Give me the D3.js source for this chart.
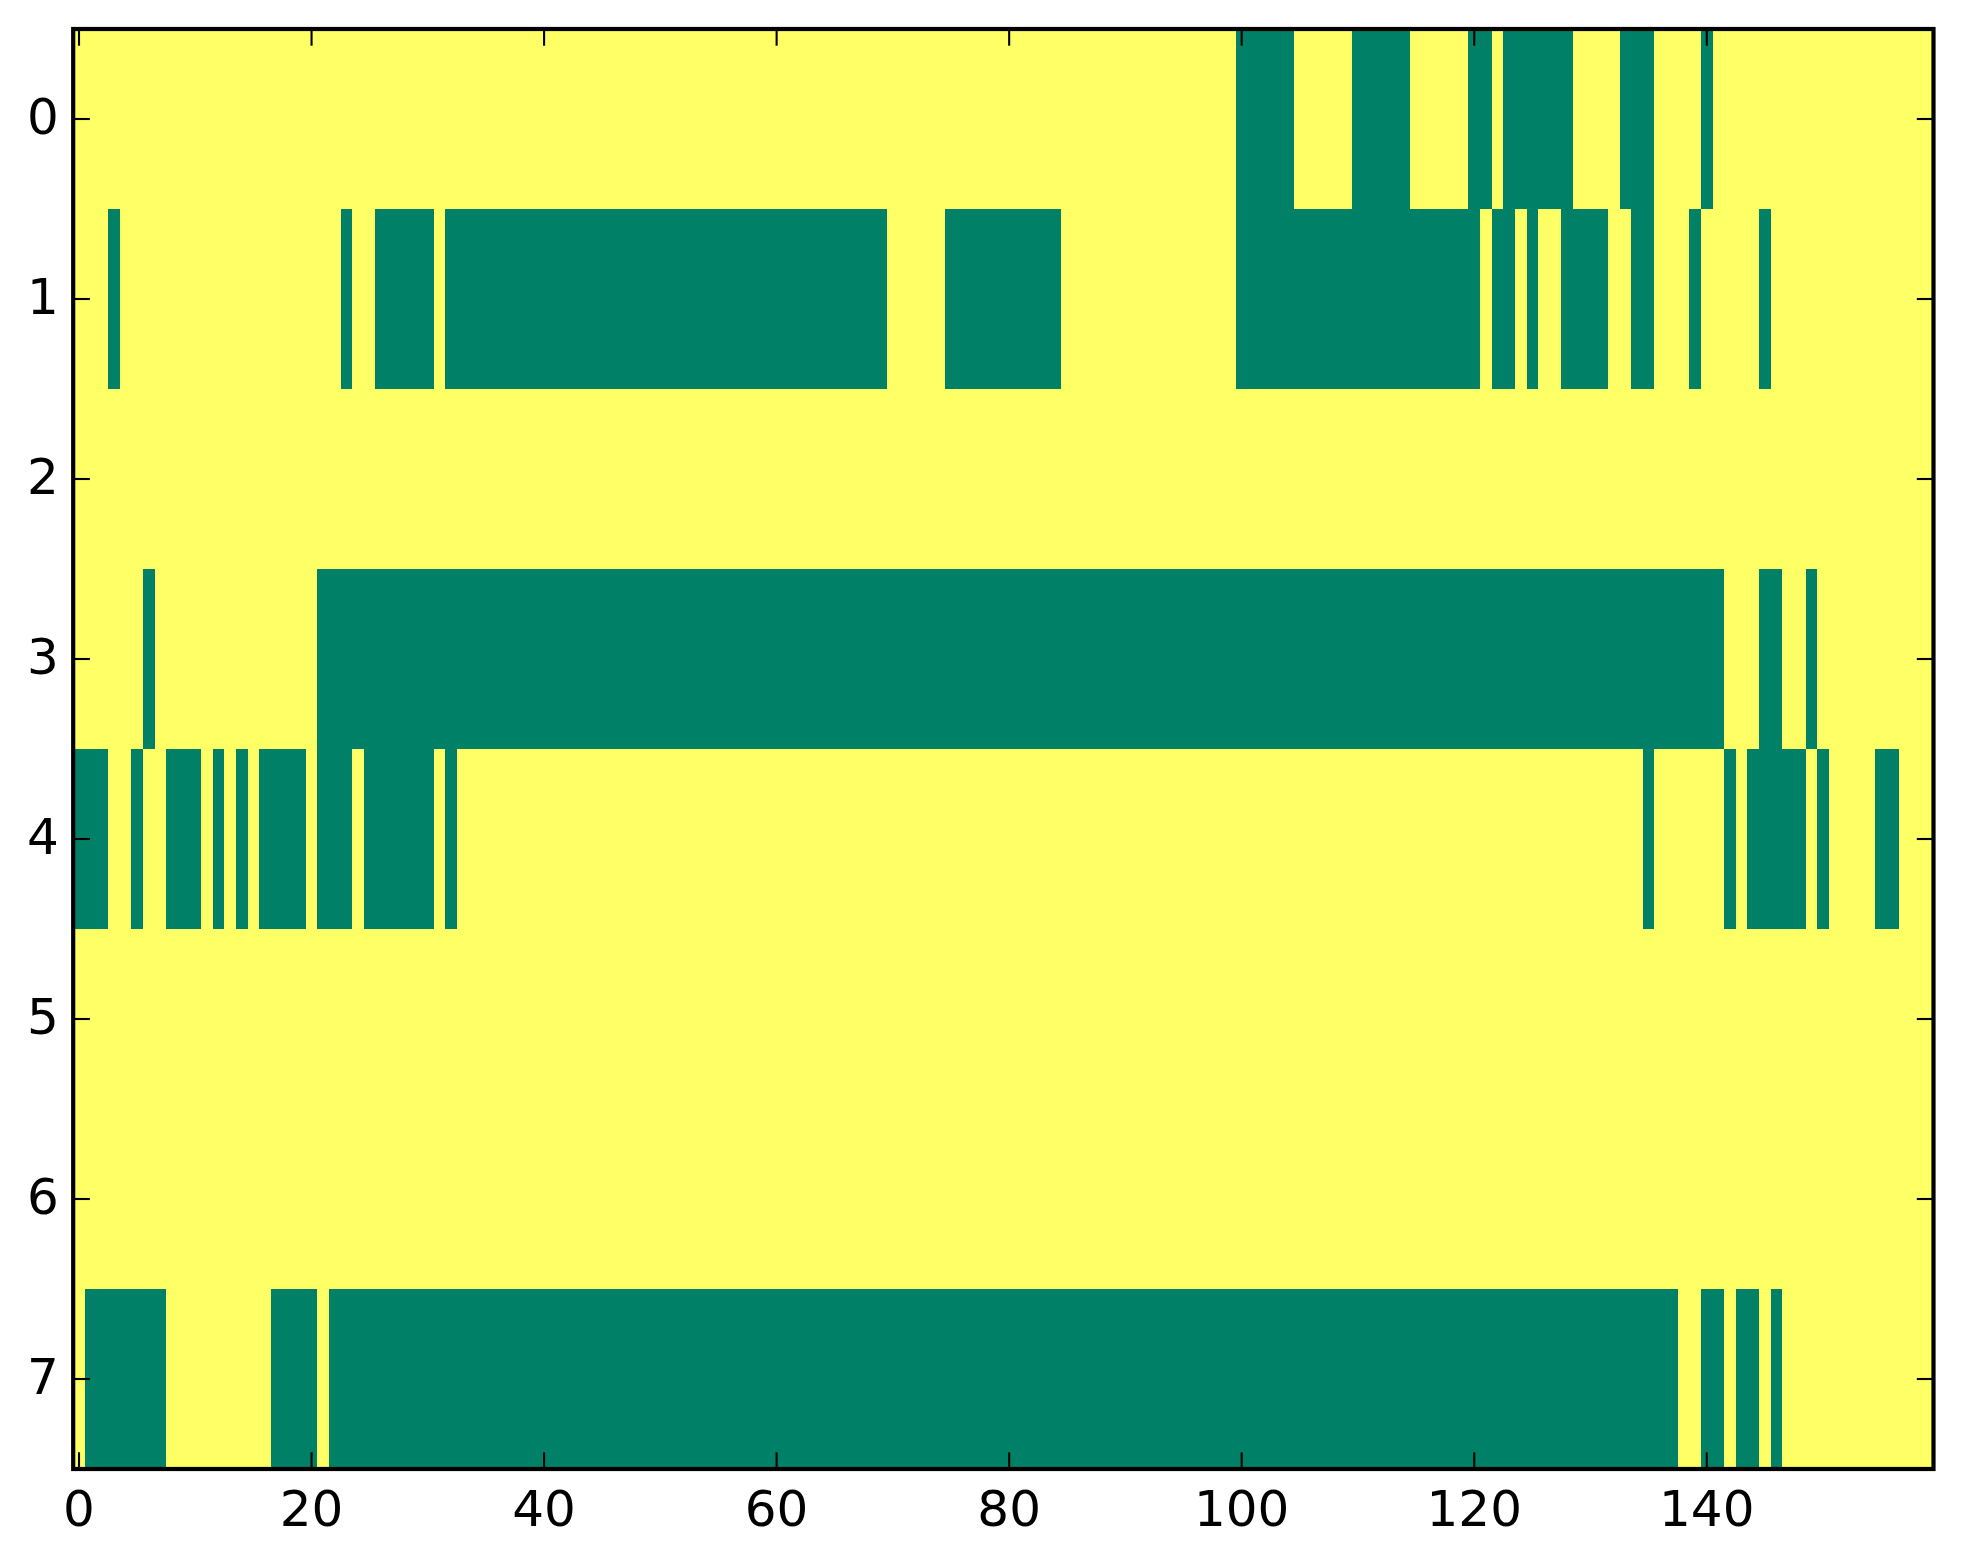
<!DOCTYPE html>
<html>
<head>
<meta charset="utf-8">
<script src="https://cdn.jsdelivr.net/npm/d3@7"></script>
<style>
  html, body { margin: 0; padding: 0; background: #ffffff; }
  svg { display: block; }
</style>
</head>
<body>
<svg id="chart" width="1963" height="1564"></svg>
<script>
// ---- data ----
const nCols = 160;
const rowIndex = [0, 1, 2, 3, 4, 5, 6, 7];
const xTickValues = [0, 20, 40, 60, 80, 100, 120, 140];
const yTickValues = [0, 1, 2, 3, 4, 5, 6, 7];
// runs of value 1 (green) per row, inclusive [start, end] column indices
const row0Runs = [[100,104],[110,114],[120,121],[123,128],[133,135],[140,140]];
const row1Runs = [[3,3],[23,23],[26,30],[32,69],[75,84],[100,120],[122,123],[125,125],[128,131],[134,135],[139,139],[145,145]];
const row2Runs = [];
const row3Runs = [[6,6],[21,141],[145,146],[149,149]];
const row4Runs = [[0,2],[5,5],[8,10],[12,12],[14,14],[16,19],[21,23],[25,30],[32,32],[135,135],[142,142],[144,148],[150,150],[155,156]];
const row5Runs = [];
const row6Runs = [];
const row7Runs = [[1,7],[17,20],[22,137],[140,141],[143,144],[146,146]];
const allRuns = [row0Runs, row1Runs, row2Runs, row3Runs, row4Runs, row5Runs, row6Runs, row7Runs];

(function () {
  // build cell table
  const cells = [];
  rowIndex.forEach(r => {
    for (let c = 0; c < nCols; c++) {
      const on = allRuns[r].some(([a, b]) => c >= a && c <= b) ? 1 : 0;
      cells.push({ row: r, col: c, value: on });
    }
  });

  // ---- layout ----
  const pLeft = 73.2, pRight = 1933.5, pTop = 29, pBottom = 1469;
  const x = d3.scaleLinear().domain([-0.5, nCols - 0.5]).range([pLeft, pRight]);
  const y = d3.scaleLinear().domain([-0.5, rowIndex.length - 0.5]).range([pTop, pBottom]);
  const color = d3.scaleOrdinal().domain([0, 1]).range(["#ffff66", "#008066"]);

  const svg = d3.select("#chart");
  svg.append("rect").attr("width", 1963).attr("height", 1564).attr("fill", "#ffffff");

  svg.append("g")
    .attr("shape-rendering", "crispEdges")
    .selectAll("rect")
    .data(cells)
    .join("rect")
    .attr("x", d => x(d.col - 0.5))
    .attr("y", d => y(d.row - 0.5))
    .attr("width", d => x(d.col + 0.5) - x(d.col - 0.5))
    .attr("height", d => y(d.row + 0.5) - y(d.row - 0.5))
    .attr("fill", d => color(d.value));

  const tickLen = 16.7, tickW = 2.1, fontPx = 50;
  const font = "'DejaVu Sans', sans-serif";

  // x ticks (bottom and top, inward)
  const gx = svg.append("g");
  xTickValues.forEach(v => {
    gx.append("line").attr("x1", x(v)).attr("x2", x(v)).attr("y1", pBottom).attr("y2", pBottom - tickLen)
      .attr("stroke", "#000").attr("stroke-width", tickW);
    gx.append("line").attr("x1", x(v)).attr("x2", x(v)).attr("y1", pTop).attr("y2", pTop + tickLen)
      .attr("stroke", "#000").attr("stroke-width", tickW);
    gx.append("text").attr("x", x(v)).attr("y", pBottom + 57).attr("text-anchor", "middle")
      .attr("font-family", font).attr("font-size", fontPx).attr("fill", "#000").text(v);
  });

  // y ticks (left and right, inward)
  const gy = svg.append("g");
  yTickValues.forEach(v => {
    gy.append("line").attr("x1", pLeft).attr("x2", pLeft + tickLen).attr("y1", y(v)).attr("y2", y(v))
      .attr("stroke", "#000").attr("stroke-width", tickW);
    gy.append("line").attr("x1", pRight).attr("x2", pRight - tickLen).attr("y1", y(v)).attr("y2", y(v))
      .attr("stroke", "#000").attr("stroke-width", tickW);
    gy.append("text").attr("x", pLeft - 14.5).attr("y", y(v) + 15).attr("text-anchor", "end")
      .attr("font-family", font).attr("font-size", fontPx).attr("fill", "#000").text(v);
  });

  // frame
  svg.append("rect").attr("x", pLeft).attr("y", pTop).attr("width", pRight - pLeft).attr("height", pBottom - pTop)
    .attr("fill", "none").attr("stroke", "#000").attr("stroke-width", 4.2);
})();
</script>
</body>
</html>
